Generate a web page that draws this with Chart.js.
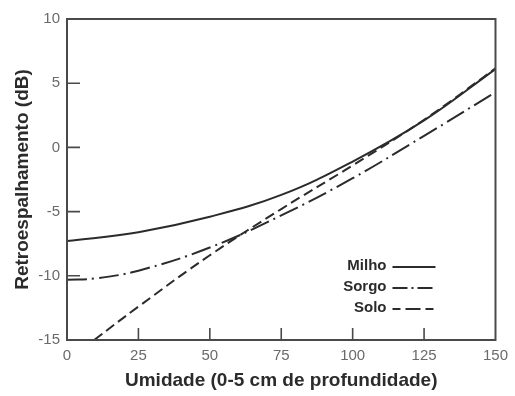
<!DOCTYPE html>
<html>
<head>
<meta charset="utf-8">
<script src="https://cdn.jsdelivr.net/npm/chart.js@4/dist/chart.umd.min.js"></script>
<style>
  html, body { margin: 0; padding: 0; background: #fff; }
  #wrap { width: 515px; height: 396px; position: relative; }
</style>
</head>
<body>
<div id="wrap"><canvas id="c"></canvas></div>
<script>
// ---- data ----
const seriesNames = ["Milho", "Sorgo", "Solo"];
const milhoX = [0, 25, 50, 75, 100, 125, 150];
const milhoY = [-7.3, -6.6, -5.4, -3.7, -1.1, 2.1, 6.1];
const sorgoX = [0, 10, 25, 50, 75, 100, 125, 150];
const sorgoY = [-10.3, -10.2, -9.6, -7.8, -5.3, -2.4, 0.9, 4.3];
const soloX = [9.5, 25, 50, 75, 100, 125, 150];
const soloY = [-15, -12.4, -8.4, -4.8, -1.4, 2.15, 6.15];
const xTicks = [0, 25, 50, 75, 100, 125, 150];
const yTicks = [-15, -10, -5, 0, 5, 10];
const xTitle = "Umidade (0-5 cm de profundidade)";
const yTitle = "Retroespalhamento (dB)";

const pts = (xs, ys) => xs.map((x, i) => ({ x: x, y: ys[i] }));
const FONT = "'Liberation Sans', Arial, sans-serif";
const INK = "#2b2b2b";

// frame + inward tick marks
const framePlugin = {
  id: 'frame',
  afterDraw(chart) {
    const { ctx, chartArea: a, scales } = chart;
    ctx.save();
    ctx.strokeStyle = "#4a4a4a";
    ctx.lineWidth = 2;
    ctx.strokeRect(a.left, a.top, a.right - a.left, a.bottom - a.top);
    ctx.lineWidth = 1.6;
    ctx.beginPath();
    scales.x.ticks.forEach(t => {
      if (t.value <= xTicks[0] || t.value >= xTicks[xTicks.length - 1]) return;
      const px = scales.x.getPixelForValue(t.value);
      ctx.moveTo(px, a.bottom);
      ctx.lineTo(px, a.bottom - 12);
    });
    scales.y.ticks.forEach(t => {
      if (t.value <= yTicks[0] || t.value >= yTicks[yTicks.length - 1]) return;
      const py = scales.y.getPixelForValue(t.value);
      ctx.moveTo(a.left, py);
      ctx.lineTo(a.left + 13, py);
    });
    ctx.stroke();
    ctx.restore();
  }
};

// legend: text then line sample, bottom-right inside plot
const legendPlugin = {
  id: 'rlegend',
  afterDraw(chart) {
    const { ctx, chartArea: a } = chart;
    ctx.save();
    ctx.font = "bold 15px " + FONT;
    ctx.textAlign = "right";
    ctx.textBaseline = "middle";
    const textRight = a.right - 109;
    const lineStart = a.right - 103;
    const lineEnd = a.right - 60;
    chart.data.datasets.forEach((ds, i) => {
      const y = a.top + 247 + i * 21;
      ctx.fillStyle = INK;
      ctx.fillText(ds.label, textRight, y);
      ctx.strokeStyle = ds.borderColor;
      ctx.lineWidth = 2;
      ctx.setLineDash(ds.legendDash || []);
      ctx.beginPath();
      ctx.moveTo(lineStart, y + 1);
      ctx.lineTo(lineEnd, y + 1);
      ctx.stroke();
    });
    ctx.restore();
  }
};

new Chart(document.getElementById('c'), {
  type: 'line',
  data: {
    datasets: [
      { label: seriesNames[0], data: pts(milhoX, milhoY), borderColor: INK, borderWidth: 2,
        borderDash: [], legendDash: [] },
      { label: seriesNames[1], data: pts(sorgoX, sorgoY), borderColor: INK, borderWidth: 2,
        borderDash: [20, 5, 2, 5], legendDash: [15, 4, 2, 4] },
      { label: seriesNames[2], data: pts(soloX, soloY), borderColor: INK, borderWidth: 2,
        borderDash: [10, 5], legendDash: [8, 5, 15, 5] }
    ]
  },
  options: {
    responsive: true,
    maintainAspectRatio: false,
    animation: false,
    layout: { padding: { left: 0, right: 15, top: 19, bottom: 0 } },
    elements: {
      point: { radius: 0 },
      line: { tension: 0.4, fill: false }
    },
    plugins: { legend: { display: false }, tooltip: { enabled: false } },
    scales: {
      x: {
        type: 'linear', min: 0, max: 150,
        afterBuildTicks: s => { s.ticks = xTicks.map(v => ({ value: v })); },
        afterFit: s => { s.height = 56; },
        grid: { display: false, drawTicks: false },
        border: { display: false },
        ticks: { padding: 7, color: "#6a6a6a", font: { family: FONT, size: 15 }, maxRotation: 0 },
        title: { display: true, text: xTitle, color: INK, font: { family: FONT, size: 19, weight: 'bold' }, padding: { top: 5 } }
      },
      y: {
        type: 'linear', min: -15, max: 10,
        afterBuildTicks: s => { s.ticks = yTicks.map(v => ({ value: v })); },
        afterFit: s => { s.width = 67; },
        grid: { display: false, drawTicks: false },
        border: { display: false },
        ticks: { padding: 7, color: "#6a6a6a", font: { family: FONT, size: 15 } },
        title: { display: true, text: yTitle, color: INK, font: { family: FONT, size: 19, weight: 'bold' }, padding: { bottom: 0, top: 11 } }
      }
    }
  },
  plugins: [framePlugin, legendPlugin]
});
</script>
</body>
</html>
